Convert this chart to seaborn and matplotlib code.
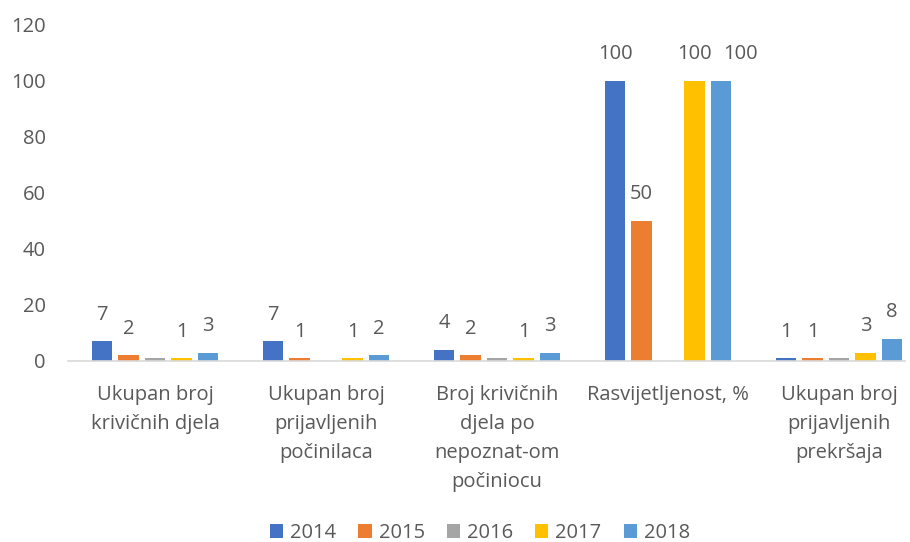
import matplotlib
matplotlib.use("Agg")
import matplotlib.pyplot as plt
import seaborn as sns
import pandas as pd
import numpy as np

categories = ["Ukupan broj\nkrivičnih djela", "Ukupan broj\nprijavljenih\npočinilaca",
              "Broj krivičnih\ndjela po\nnepoznat-om\npočiniocu", "Rasvijetljenost, %",
              "Ukupan broj\nprijavljenih\nprekršaja"]
years = ["2014", "2015", "2016", "2017", "2018"]
v2014 = [7, 7, 4, 100, 1]
v2015 = [2, 1, 2, 50, 1]
v2016 = [1, np.nan, 1, np.nan, 1]
v2017 = [1, 1, 1, 100, 3]
v2018 = [3, 2, 3, 100, 8]
labelled = {"2014": True, "2015": True, "2016": False, "2017": True, "2018": True}
colors = ["#4472C4", "#ED7D31", "#A5A5A5", "#FFC000", "#5B9BD5"]

rows = []
for y, vals in zip(years, [v2014, v2015, v2016, v2017, v2018]):
    for c, v in zip(categories, vals):
        rows.append({"cat": c, "year": y, "val": v})
df = pd.DataFrame(rows)

sns.set_theme(style="white")
plt.rcParams["font.family"] = ["Open Sans", "DejaVu Sans"]
fs = 14.5
fig = plt.figure(figsize=(9.1, 5.42), dpi=100)
# category pitch 171 px, first centre at 155 px
x0 = 155 - 85.5
ax = fig.add_axes([68/910, 1-361/542, (905-68)/910, 336/542])
sns.barplot(data=df, x="cat", y="val", hue="year", palette=colors, width=0.775,
            gap=0.245, ax=ax, saturation=1, order=categories, hue_order=years,
            linewidth=0, edgecolor="none")

tc = "#595959"
for cont, y in zip(ax.containers, years):
    if labelled[y]:
        labs = ["" if np.isnan(b.get_height()) else f"{b.get_height():.0f}" for b in cont]
        anns = ax.bar_label(cont, labels=labs, padding=12, fontsize=fs, color=tc)
        if y == "2018":
            # Excel nudges the crowded label to the right
            anns[3].xyann = (19*0.72, 12)

ax.set_ylim(0, 120)
ax.set_xlim(-0.5 - (x0-68)/171, -0.5 + (905-x0)/171)
ax.set_yticks(range(0, 121, 20))
ax.tick_params(axis="y", labelsize=fs, labelcolor=tc, length=0, pad=16)
ax.tick_params(axis="x", labelsize=fs, labelcolor=tc, length=0, pad=17)
ax.set_xlabel("")
ax.set_ylabel("")
for s in ["top", "right", "left"]:
    ax.spines[s].set_visible(False)
ax.spines["bottom"].set_color("#D9D9D9")
ax.spines["bottom"].set_linewidth(1.2)
for t in ax.get_xticklabels():
    t.set_linespacing(1.6)
    t.set_verticalalignment("top")

ax.legend(loc="center", bbox_to_anchor=(480/910, 1-533/542), bbox_transform=fig.transFigure,
          ncol=5, frameon=False, fontsize=fs, handlelength=0.65, handleheight=0.65,
          handletextpad=0.35, columnspacing=1.1, labelcolor=tc)
fig.savefig("out.png", dpi=100)
